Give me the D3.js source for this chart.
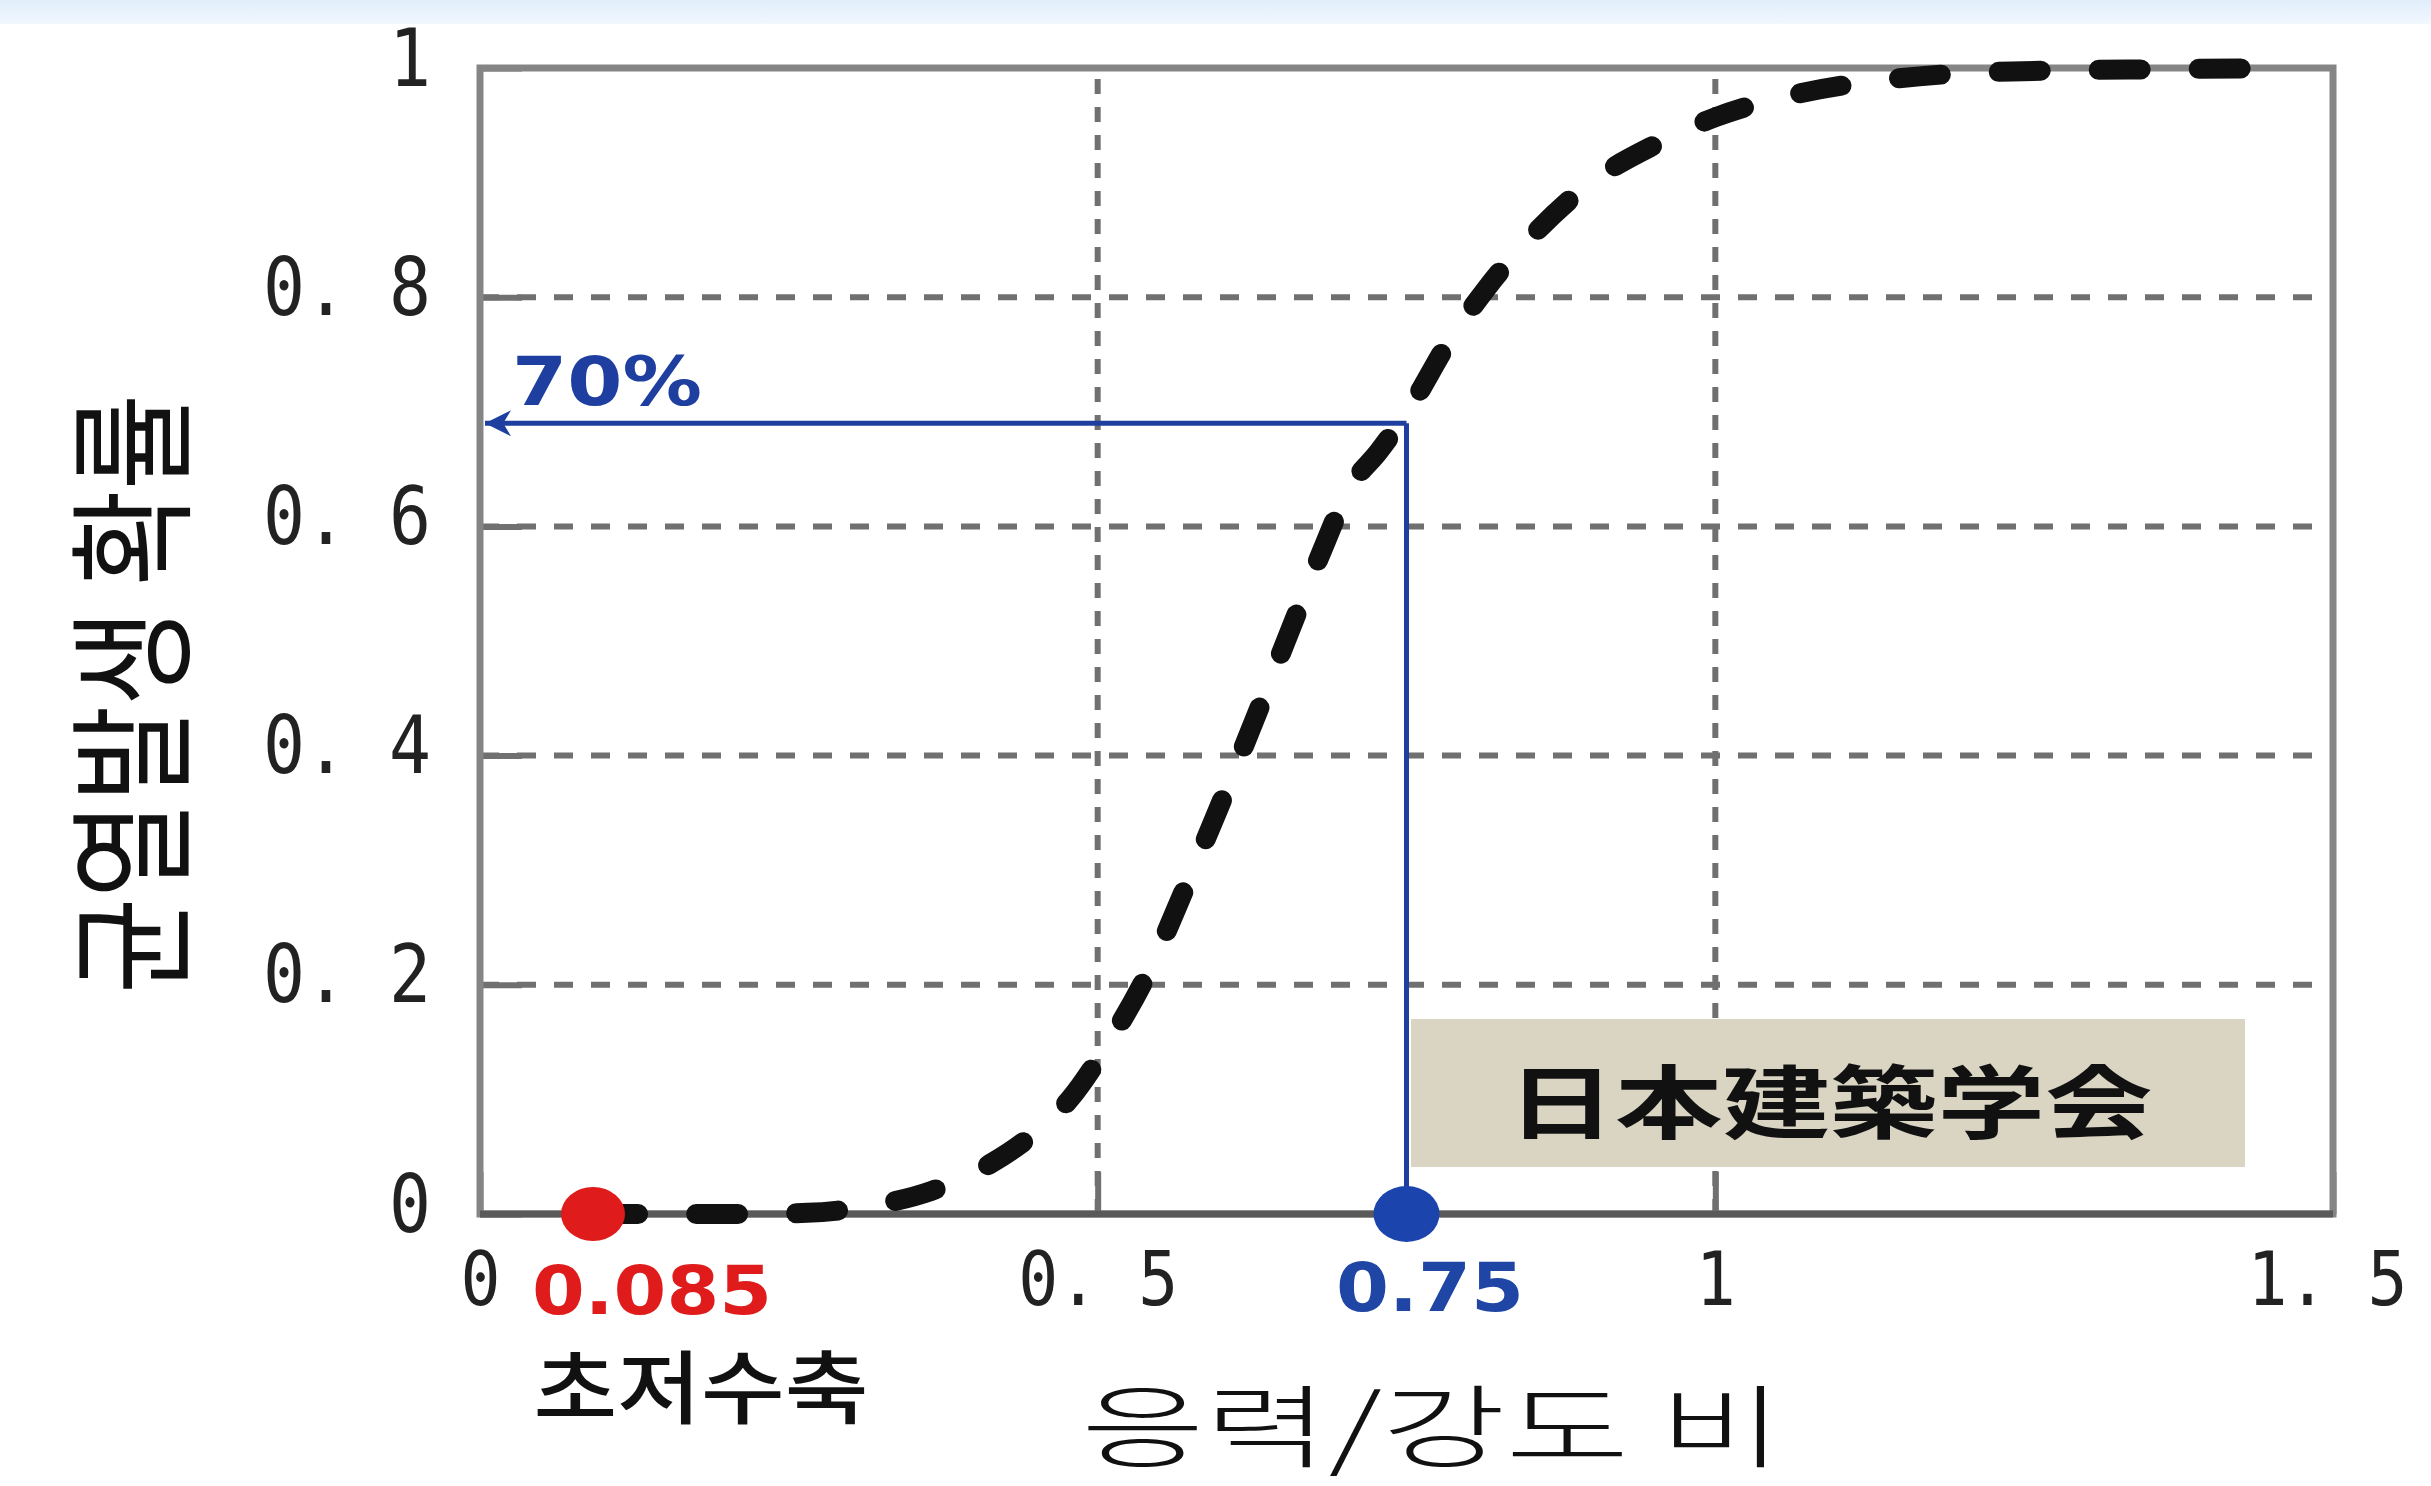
<!DOCTYPE html>
<html><head><meta charset="utf-8">
<script src="https://cdn.jsdelivr.net/npm/d3@7"></script>
<style>html,body{margin:0;padding:0;background:#fff;overflow:hidden}</style>
</head><body>
<script>
// ---- data ----
const xTicks = [0, 0.5, 1, 1.5];
const xTickLabels = ["0", "0. 5", "1", "1. 5"];
const yTicks = [0, 0.2, 0.4, 0.6, 0.8, 1];
const yTickLabels = ["0", "0. 2", "0. 4", "0. 6", "0. 8", "1"];
const gridX = [0.5, 1];
const gridY = [0.2, 0.4, 0.6, 0.8];
const curveX = [0.094, 0.14, 0.2, 0.265, 0.315, 0.365, 0.415, 0.446, 0.478, 0.509, 0.54, 0.571, 0.596, 0.615, 0.634, 0.659, 0.684, 0.703, 0.728, 0.753, 0.784, 0.815, 0.853, 0.903, 0.953, 1.0, 1.065, 1.14, 1.24, 1.365, 1.465];
const curveY = [0.0, 0.0, 0.0, 0.001, 0.007, 0.02, 0.045, 0.068, 0.101, 0.15, 0.209, 0.285, 0.349, 0.399, 0.45, 0.518, 0.585, 0.632, 0.666, 0.704, 0.761, 0.808, 0.855, 0.903, 0.934, 0.957, 0.977, 0.99, 0.997, 0.999, 1.0];
const shrinkRatio = 0.085, shrinkLabel = "0.085", shrinkName = "초저수축";
const aijRatio = 0.75, aijLabel = "0.75";
const aijProb = 0.69, aijProbLabel = "70%";
const sourceLabel = "日本建築学会";
const xTitle = "응력/강도 비";
const yTitle = "균열발생 확률";

// ---- layout ----
const W = 2431, H = 1486;
const L = 480, R = 2333, T = 68, B = 1214;
const blue = "#1e3f9f", red = "#e01b1b";

const svg = d3.select("body").append("svg").attr("width", W).attr("height", H);
const defs = svg.append("defs");
const grad = defs.append("linearGradient").attr("id", "band").attr("x1", 0).attr("y1", 0).attr("x2", 0).attr("y2", 1);
grad.append("stop").attr("offset", "0%").attr("stop-color", "#e0eefb");
grad.append("stop").attr("offset", "100%").attr("stop-color", "#f1f8fe");
svg.append("rect").attr("x", 0).attr("y", 0).attr("width", W).attr("height", 24).attr("fill", "url(#band)");

const x = d3.scaleLinear().domain([0, 1.5]).range([L, R]);
const y = d3.scaleLinear().domain([0, 1]).range([B, T]);

// grid
svg.append("g").selectAll("line").data(gridY).join("line")
  .attr("x1", L).attr("x2", R).attr("y1", d => y(d)).attr("y2", d => y(d))
  .attr("stroke", "#707070").attr("stroke-width", 6).attr("stroke-dasharray", "19,18");
svg.append("g").selectAll("line").data(gridX).join("line")
  .attr("y1", B).attr("y2", T).attr("x1", d => x(d)).attr("x2", d => x(d))
  .attr("stroke", "#707070").attr("stroke-width", 6).attr("stroke-dasharray", "15,13");

// axes (ticks inward, labels customised)
const fontNum = "'DejaVu Sans Mono', monospace";
const gx = svg.append("g").attr("transform", `translate(0,${B})`)
  .call(d3.axisBottom(x).tickValues(xTicks).tickFormat((d, i) => xTickLabels[i]).tickSizeInner(-42).tickSizeOuter(0));
gx.select(".domain").remove();
gx.selectAll(".tick line").attr("stroke", "#707070").attr("stroke-width", 6);
gx.selectAll(".tick text").attr("y", 91).attr("dy", null)
  .attr("font-family", fontNum).attr("font-size", 74).attr("fill", "#222")
  .attr("text-anchor", "middle")
  .attr("dx", (d, i) => i === xTicks.length - 1 ? -6 : 0)
  .attr("textLength", function() { return this.textContent.length * 40; })
  .attr("lengthAdjust", "spacingAndGlyphs");

const gy = svg.append("g").attr("transform", `translate(${L},0)`)
  .call(d3.axisLeft(y).tickValues(yTicks).tickFormat((d, i) => yTickLabels[i]).tickSizeInner(-42).tickSizeOuter(0));
gy.select(".domain").remove();
gy.selectAll(".tick line").attr("stroke", "#707070").attr("stroke-width", 6);
gy.selectAll(".tick text").attr("x", -49).attr("dy", null).attr("y", 17)
  .attr("font-family", fontNum).attr("font-size", 80).attr("fill", "#222")
  .attr("text-anchor", "end")
  .attr("textLength", function() { return this.textContent.length * 42; })
  .attr("lengthAdjust", "spacingAndGlyphs");

// frame
svg.append("rect").attr("x", L).attr("y", T).attr("width", R - L).attr("height", B - T)
  .attr("fill", "none").attr("stroke", "#858585").attr("stroke-width", 7);
svg.append("line").attr("x1", L).attr("x2", R).attr("y1", B).attr("y2", B)
  .attr("stroke", "#5a5a5a").attr("stroke-width", 7);

// source box
svg.append("rect").attr("x", 1411).attr("y", 1019).attr("width", 834).attr("height", 148).attr("fill", "#dad5c3");
svg.append("text").attr("x", 1830).attr("y", 1097).attr("text-anchor", "middle").attr("dominant-baseline", "central")
  .attr("font-family", "'Noto Sans CJK JP', sans-serif").attr("font-weight", 700).attr("font-size", 80)
  .attr("textLength", 645).attr("lengthAdjust", "spacingAndGlyphs").attr("fill", "#111").text(sourceLabel);

// curve
const line = d3.line().x((d, i) => x(curveX[i])).y((d, i) => y(curveY[i])).curve(d3.curveMonotoneX);
svg.append("path").datum(curveX).attr("d", line).attr("fill", "none")
  .attr("stroke", "#111").attr("stroke-width", 20).attr("stroke-linecap", "round")
  .attr("stroke-dasharray", "42,58");

// blue annotation
defs.append("marker").attr("id", "arr").attr("markerUnits", "userSpaceOnUse")
  .attr("viewBox", "0 0 10 10").attr("refX", 10).attr("refY", 5)
  .attr("markerWidth", 34).attr("markerHeight", 26).attr("orient", "auto")
  .append("path").attr("d", "M10,5 L0,0 L3,5 L0,10 Z").attr("fill", blue);
svg.append("line").attr("x1", x(aijRatio)).attr("x2", x(0) + 5).attr("y1", y(aijProb)).attr("y2", y(aijProb))
  .attr("stroke", blue).attr("stroke-width", 5).attr("marker-end", "url(#arr)");
svg.append("line").attr("x1", x(aijRatio)).attr("x2", x(aijRatio)).attr("y1", y(aijProb)).attr("y2", y(0))
  .attr("stroke", blue).attr("stroke-width", 5);
svg.append("text").attr("x", 512).attr("y", 381).attr("dominant-baseline", "central")
  .attr("font-family", "'DejaVu Sans', sans-serif").attr("font-weight", 700).attr("font-size", 68)
  .attr("textLength", 190).attr("lengthAdjust", "spacingAndGlyphs").attr("fill", blue).text(aijProbLabel);

// points
svg.append("ellipse").attr("cx", x(aijRatio)).attr("cy", y(0)).attr("rx", 33).attr("ry", 28).attr("fill", "#1c44ad");
svg.append("ellipse").attr("cx", x(shrinkRatio) + 8).attr("cy", y(0)).attr("rx", 32).attr("ry", 27).attr("fill", red);

// point labels
svg.append("text").attr("x", 652).attr("y", 1290).attr("text-anchor", "middle").attr("dominant-baseline", "central")
  .attr("font-family", "'DejaVu Sans', sans-serif").attr("font-weight", 700).attr("font-size", 68)
  .attr("textLength", 240).attr("lengthAdjust", "spacingAndGlyphs").attr("fill", red).text(shrinkLabel);
svg.append("text").attr("x", 1430).attr("y", 1287).attr("text-anchor", "middle").attr("dominant-baseline", "central")
  .attr("font-family", "'DejaVu Sans', sans-serif").attr("font-weight", 700).attr("font-size", 68)
  .attr("textLength", 188).attr("lengthAdjust", "spacingAndGlyphs").attr("fill", "#1f45a5").text(aijLabel);
svg.append("text").attr("x", 701).attr("y", 1382).attr("text-anchor", "middle").attr("dominant-baseline", "central")
  .attr("font-family", "'Noto Sans CJK KR', sans-serif").attr("font-weight", 500).attr("font-size", 80)
  .attr("textLength", 335).attr("lengthAdjust", "spacingAndGlyphs").attr("fill", "#111").text(shrinkName);

// axis titles
svg.append("text").attr("x", 1432).attr("y", 1421).attr("text-anchor", "middle").attr("dominant-baseline", "central")
  .attr("font-family", "'Noto Sans CJK KR', sans-serif").attr("font-weight", 300).attr("font-size", 90)
  .attr("textLength", 702).attr("lengthAdjust", "spacingAndGlyphs").attr("fill", "#111").text(xTitle);
svg.append("text").attr("transform", "translate(124,694) rotate(-90)").attr("text-anchor", "middle").attr("dominant-baseline", "central")
  .attr("font-family", "'Noto Sans CJK KR', sans-serif").attr("font-weight", 400).attr("font-size", 128)
  .attr("textLength", 600).attr("lengthAdjust", "spacingAndGlyphs").attr("fill", "#111").text(yTitle);
</script>
</body></html>
